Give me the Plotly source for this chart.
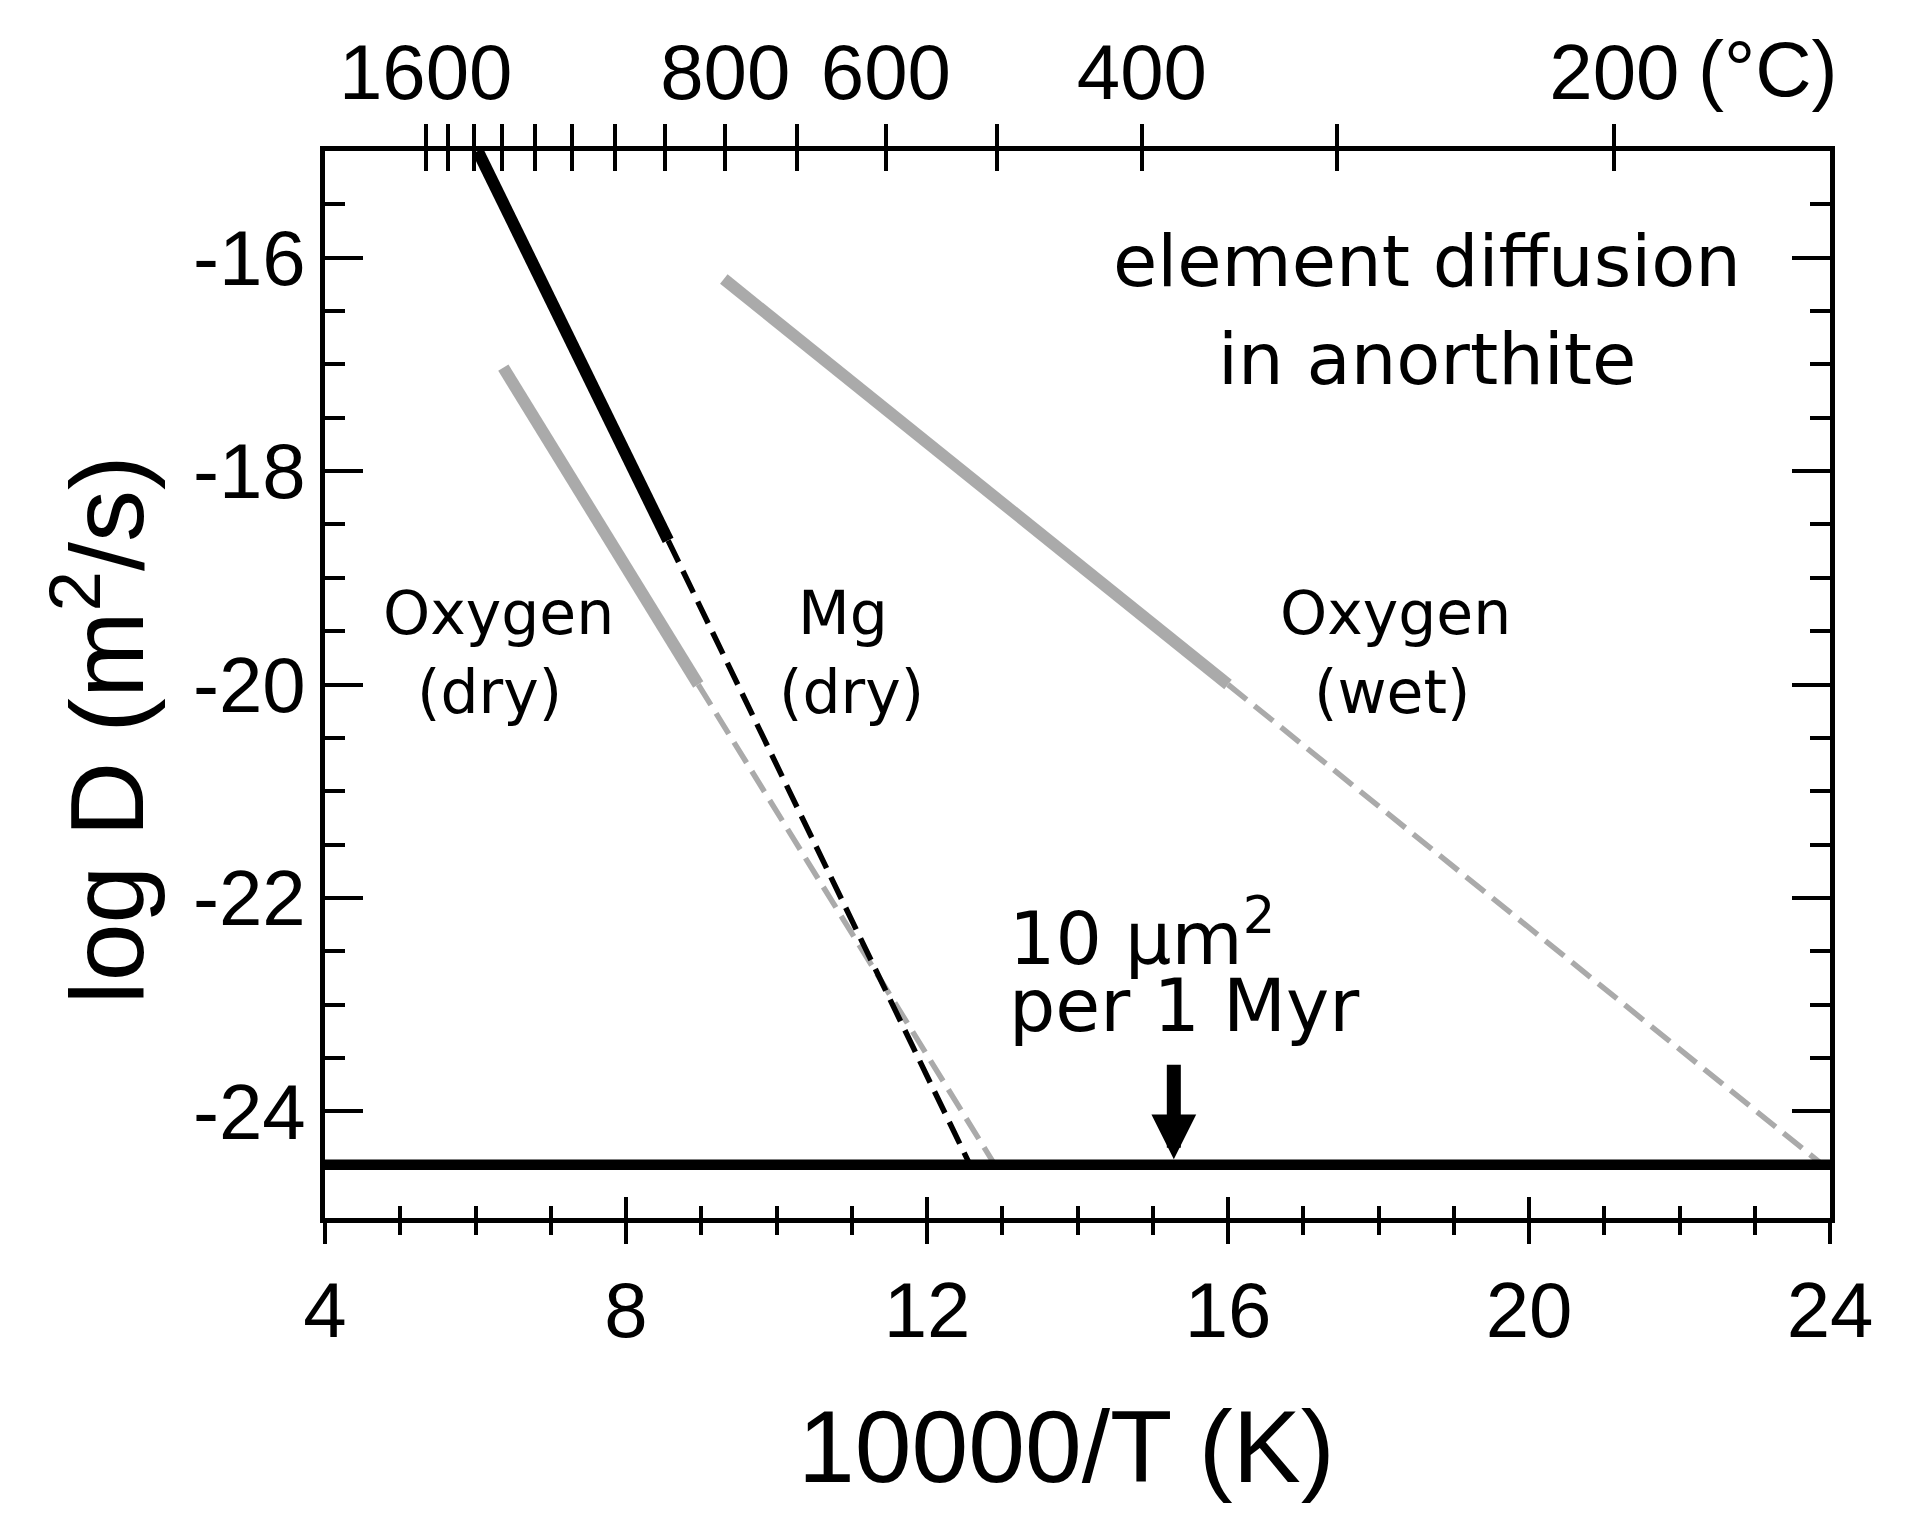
import plotly.graph_objects as go

# ---------------- data ----------------
mg_solid_x = [6.03, 8.56]
mg_solid_y = [-15.0, -18.65]
mg_dash_x = [8.56, 12.57]
mg_dash_y = [-18.65, -24.5]

oxdry_solid_x = [6.37, 8.96]
oxdry_solid_y = [-17.03, -20.0]
oxdry_dash_x = [8.96, 12.90]
oxdry_dash_y = [-20.0, -24.5]

oxwet_solid_x = [9.30, 16.0]
oxwet_solid_y = [-16.2, -20.0]
oxwet_dash_x = [16.0, 23.9]
oxwet_dash_y = [-20.0, -24.5]

limit_x = [4, 24]
limit_y = [-24.5, -24.5]

arrow_x = 15.28
arrow_tail_y = -23.55
arrow_tip_y = -24.45

x_tick_vals = [4, 8, 12, 16, 20, 24]
x_tick_text = ["4", "8", "12", "16", "20", "24"]
y_tick_vals = [-24, -22, -20, -18, -16]
y_tick_text = ["-24", "-22", "-20", "-18", "-16"]
top_temps_c = [1600, 1500, 1400, 1300, 1200, 1100, 1000, 900, 800, 700, 600, 500, 400, 300, 200]
top_tick_text = ["1600", "", "", "", "", "", "", "", "800", "", "600", "", "400", "", "200"]
top_tick_vals = [10000.0 / (t + 273.15) for t in top_temps_c]

X_RANGE = [4, 24]
Y_RANGE = [-25, -15]

FONT = "Liberation Sans, Arial, Helvetica, sans-serif"
LABEL_FONT = "DejaVu Sans, Liberation Sans, sans-serif"
GRAY = "#aaaaaa"
BLACK = "#000000"

fig = go.Figure()

# gray oxygen lines
for xs, ys in [(oxdry_solid_x, oxdry_solid_y), (oxwet_solid_x, oxwet_solid_y)]:
    fig.add_trace(go.Scatter(x=xs, y=ys, mode="lines",
                             line=dict(color=GRAY, width=12),
                             hoverinfo="skip", showlegend=False))
for xs, ys in [(oxdry_dash_x, oxdry_dash_y), (oxwet_dash_x, oxwet_dash_y)]:
    fig.add_trace(go.Scatter(x=xs, y=ys, mode="lines",
                             line=dict(color=GRAY, width=5.5, dash="24px,10px"),
                             hoverinfo="skip", showlegend=False))
# Mg line
fig.add_trace(go.Scatter(x=mg_solid_x, y=mg_solid_y, mode="lines",
                         line=dict(color=BLACK, width=12),
                         hoverinfo="skip", showlegend=False))
fig.add_trace(go.Scatter(x=mg_dash_x, y=mg_dash_y, mode="lines",
                         line=dict(color=BLACK, width=5.5, dash="24px,10px"),
                         hoverinfo="skip", showlegend=False))
# 10 um^2 per 1 Myr line
fig.add_trace(go.Scatter(x=limit_x, y=limit_y, mode="lines",
                         line=dict(color=BLACK, width=10.5),
                         hoverinfo="skip", showlegend=False))

# invisible traces to anchor the overlay axes
for xa in ["x2", "x3", "x4"]:
    fig.add_trace(go.Scatter(x=limit_x, y=limit_y, xaxis=xa, yaxis="y", mode="lines",
                             line=dict(width=0, color="rgba(0,0,0,0)"),
                             hoverinfo="skip", showlegend=False))

tickfont = dict(family=FONT, size=78, color=BLACK)
LW = 4.5

fig.update_layout(
    width=1920, height=1524,
    margin=dict(l=325, r=90, t=151, b=306, autoexpand=False),
    paper_bgcolor="white", plot_bgcolor="white",
    font=dict(family=FONT, color=BLACK),
    showlegend=False,
    xaxis=dict(
        range=X_RANGE, showgrid=False, zeroline=False, automargin=False,
        showline=True, linewidth=LW, linecolor=BLACK,
        tickmode="array", tickvals=x_tick_vals, ticktext=x_tick_text,
        ticks="outside", ticklen=21, tickwidth=4, tickcolor=BLACK,
        minor=dict(tickmode="linear", tick0=4, dtick=1, ticks="outside",
                   ticklen=12, tickwidth=4, tickcolor=BLACK),
        tickfont=tickfont, ticklabelstandoff=0,
    ),
    xaxis3=dict(
        range=X_RANGE, overlaying="x", anchor="y", side="bottom", automargin=False,
        showgrid=False, zeroline=False, showline=False,
        tickmode="array", tickvals=x_tick_vals, showticklabels=False,
        ticks="inside", ticklen=21, tickwidth=4, tickcolor=BLACK,
        minor=dict(tickmode="linear", tick0=4, dtick=1, ticks="inside",
                   ticklen=12, tickwidth=4, tickcolor=BLACK),
    ),
    xaxis2=dict(
        range=X_RANGE, overlaying="x", anchor="y", side="top", automargin=False,
        showgrid=False, zeroline=False,
        showline=True, linewidth=LW, linecolor=BLACK,
        tickmode="array", tickvals=top_tick_vals, ticktext=top_tick_text,
        ticks="outside", ticklen=22, tickwidth=4, tickcolor=BLACK,
        tickfont=tickfont, ticklabelstandoff=-6,
    ),
    xaxis4=dict(
        range=X_RANGE, overlaying="x", anchor="y", side="top", automargin=False,
        showgrid=False, zeroline=False, showline=False,
        tickmode="array", tickvals=top_tick_vals, showticklabels=False,
        ticks="inside", ticklen=20, tickwidth=4, tickcolor=BLACK,
    ),
    yaxis=dict(
        range=Y_RANGE, showgrid=False, zeroline=False, automargin=False,
        showline=True, linewidth=LW, linecolor=BLACK, mirror="ticks",
        tickmode="array", tickvals=y_tick_vals, ticktext=y_tick_text,
        ticks="inside", ticklen=38, tickwidth=4, tickcolor=BLACK,
        minor=dict(tickmode="linear", tick0=-16, dtick=0.5, ticks="inside",
                   ticklen=20, tickwidth=4, tickcolor=BLACK),
        tickfont=tickfont, ticklabelstandoff=-1,
    ),
)

ann = []


def txt(text, x, y, size, xanchor="center", yanchor="middle"):
    ann.append(dict(text=text, x=x, y=y, xref="x", yref="y", showarrow=False,
                    xanchor=xanchor, yanchor=yanchor,
                    font=dict(family=LABEL_FONT, size=size, color=BLACK)))


txt("element diffusion", 18.64, -16.03, 72)
txt("in anorthite", 18.64, -16.95, 72)
txt("Oxygen", 6.30, -19.33, 60)
txt("(dry)", 6.19, -20.07, 60)
txt("Mg", 10.88, -19.33, 60)
txt("(dry)", 10.99, -20.07, 60)
txt("Oxygen", 18.22, -19.33, 60)
txt("(wet)", 18.18, -20.07, 60)
txt("10 µm<sup>2</sup>", 13.06, -22.80, 73, xanchor="left", yanchor="bottom")
txt("per 1 Myr", 13.06, -23.43, 73, xanchor="left", yanchor="bottom")

# arrow
ann.append(dict(x=arrow_x, y=arrow_tip_y, ax=arrow_x, ay=arrow_tail_y,
                xref="x", yref="y", axref="x", ayref="y", text="",
                showarrow=True, arrowhead=2, arrowsize=0.64, arrowwidth=14,
                arrowcolor=BLACK))

# (°C) unit on top axis
ann.append(dict(text="(°C)", x=0.9588, y=1.0768, xref="paper", yref="paper",
                showarrow=False, xanchor="center", yanchor="middle",
                font=dict(family=FONT, size=78, color=BLACK)))

# axis titles
ann.append(dict(text="log D (m<sup>2</sup>/s)", x=0, y=0.457, xref="paper", yref="paper",
                xshift=-225, showarrow=False, textangle=-90,
                xanchor="center", yanchor="middle",
                font=dict(family=FONT, size=104, color=BLACK)))
ann.append(dict(text="10000/T (K)", x=0.493, y=0, xref="paper", yref="paper",
                yshift=-229, showarrow=False, xanchor="center", yanchor="middle",
                font=dict(family=FONT, size=102, color=BLACK)))

fig.update_layout(annotations=ann)

fig.write_html("out.html", config={"displayModeBar": False},
               post_script="document.body.style.margin='0px';")
